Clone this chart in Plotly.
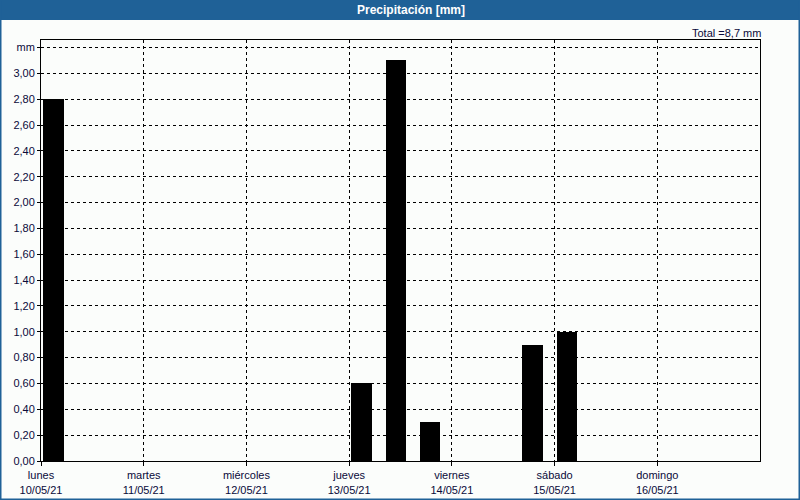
import plotly.graph_objects as go

# Data: 8-hour bins (bin start) and precipitation in mm
bin_starts = ["2021-05-10 00:00", "2021-05-13 00:00", "2021-05-13 08:00",
              "2021-05-13 16:00", "2021-05-14 16:00", "2021-05-15 00:00"]
precip_mm = [2.8, 0.6, 3.1, 0.3, 0.9, 1.0]

day_ticks = ["2021-05-10", "2021-05-11", "2021-05-12", "2021-05-13",
             "2021-05-14", "2021-05-15", "2021-05-16"]
day_names = ["lunes", "martes", "miércoles", "jueves", "viernes", "sábado", "domingo"]
day_dates = ["10/05/21", "11/05/21", "12/05/21", "13/05/21", "14/05/21", "15/05/21", "16/05/21"]

y_tickvals = [0.0, 0.2, 0.4, 0.6, 0.8, 1.0, 1.2, 1.4, 1.6, 1.8, 2.0,
              2.2, 2.4, 2.6, 2.8, 3.0, 3.2]
y_ticktext = ["0,00", "0,20", "0,40", "0,60", "0,80", "1,00", "1,20", "1,40",
              "1,60", "1,80", "2,00", "2,20", "2,40", "2,60", "2,80", "3,00", "mm"]

title_text = "Precipitación [mm]"
total_text = "Total =8,7 mm"

HOUR = 3600 * 1000
W, H = 800, 500
L, R, T, B = 41, 40, 40, 39
PW, PH = W - L - R, H - T - B

def px(x):
    return (x - L) / PW

def py(y):
    return (H - B - y) / PH

BLUE = "#1f6197"
TXT = "#0a0a3a"
BG = "#fbfdfb"
FONT = "Liberation Sans"

fig = go.Figure()
fig.add_trace(go.Bar(
    x=bin_starts, y=precip_mm,
    width=[4.8 * HOUR] * len(precip_mm),
    offset=0.5 * HOUR,
    marker=dict(color="#000000", line=dict(width=0)),
    hoverinfo="x+y",
))

fig.update_layout(
    width=W, height=H,
    margin=dict(l=L, r=R, t=T, b=B, pad=0, autoexpand=False),
    paper_bgcolor=BG, plot_bgcolor=BG,
    showlegend=False,
    font=dict(family=FONT, size=11, color=TXT),
    bargap=0,
    xaxis=dict(
        type="date",
        range=["2021-05-10 00:00", "2021-05-17 00:00"],
        tickmode="array",
        tickvals=day_ticks,
        ticktext=[f"{n}<br>{d}" for n, d in zip(day_names, day_dates)],
        showgrid=True, gridcolor="#000000", gridwidth=1, griddash="3px,3px",
        showline=True, linecolor="#000000", linewidth=1, mirror=True,
        ticks="outside", ticklen=4, tickcolor="#000000",
        tickfont=dict(family=FONT, size=11, color=TXT),
        zeroline=False, fixedrange=True, automargin=False,
    ),
    yaxis=dict(
        range=[0, 3.258],
        tickmode="array",
        tickvals=y_tickvals,
        ticktext=y_ticktext,
        showgrid=True, gridcolor="#000000", gridwidth=1, griddash="3px,3px",
        showline=True, linecolor="#000000", linewidth=1, mirror=True,
        ticks="outside", ticklen=3, tickcolor="#000000",
        tickfont=dict(family=FONT, size=11, color=TXT),
        zeroline=False, fixedrange=True, automargin=False,
    ),
    shapes=[
        dict(type="rect", xref="paper", yref="paper",
             x0=px(0), x1=px(W), y0=py(20), y1=py(0),
             fillcolor=BLUE, line=dict(width=0), layer="above"),
        dict(type="rect", xref="paper", yref="paper",
             x0=px(0.5), x1=px(W - 0.5), y0=py(H - 0.5), y1=py(0),
             fillcolor="rgba(0,0,0,0)", line=dict(width=2, color=BLUE), layer="above"),
    ],
    annotations=[
        dict(text=f"<b>{title_text}</b>", xref="paper", yref="paper",
             x=px(411), y=py(10), xanchor="center", yanchor="middle",
             showarrow=False, font=dict(family=FONT, size=12, color="#ffffff")),
        dict(text=total_text, xref="paper", yref="paper",
             x=px(763), y=py(33), xanchor="right", yanchor="middle",
             showarrow=False, font=dict(family=FONT, size=11, color=TXT)),
    ],
)

fig.write_html("out.html", config={"displayModeBar": False})
